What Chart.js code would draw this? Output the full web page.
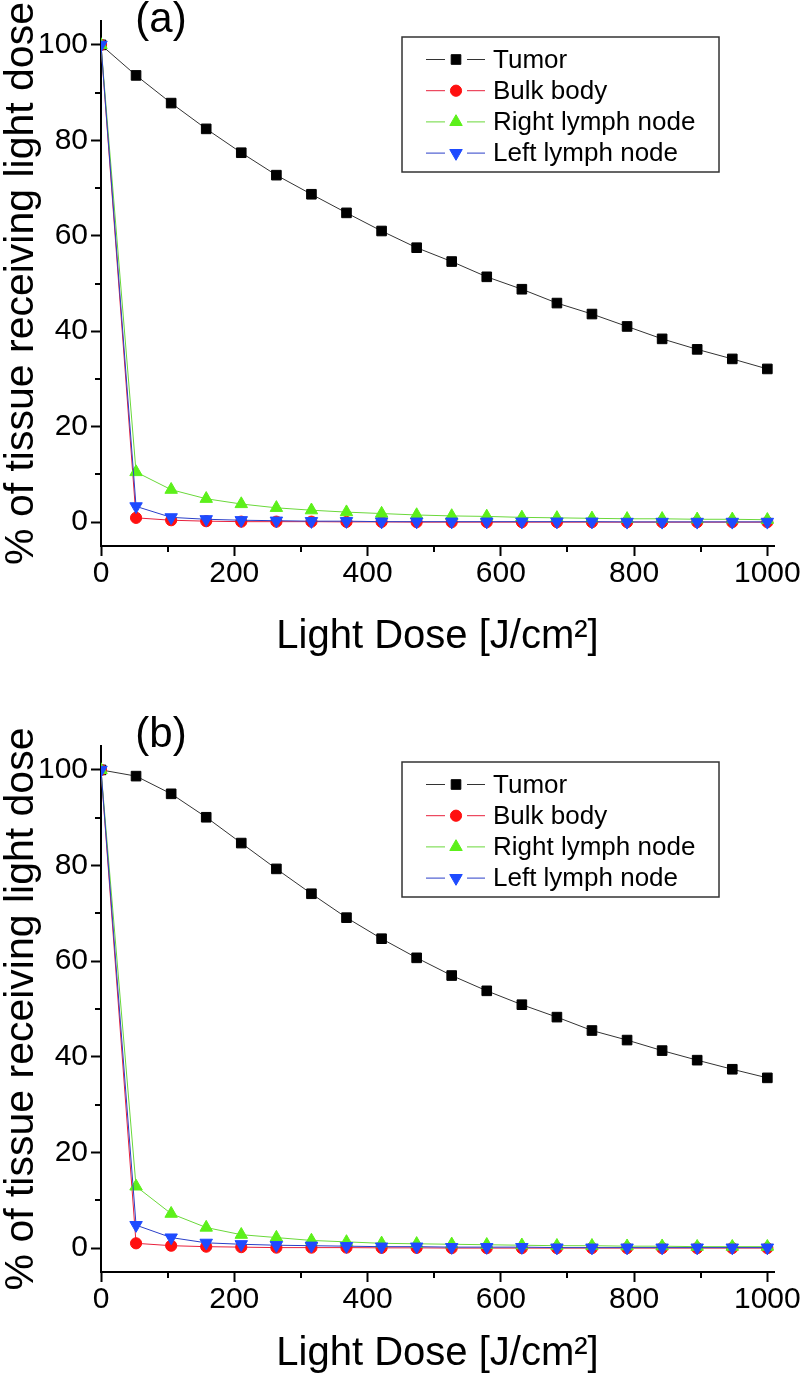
<!DOCTYPE html>
<html>
<head>
<meta charset="utf-8">
<script src="https://cdn.jsdelivr.net/npm/chart.js@4.4.0/dist/chart.umd.min.js"></script>
<style>
body { margin: 0; background: #fff; }
#wrap { position: relative; width: 804px; height: 1376px; }
canvas { position: absolute; left: 0; }
</style>
</head>
<body>
<div id="wrap">
    <canvas id="panelA" width="804" height="680" style="top:0px"></canvas>
    <canvas id="panelB" width="804" height="696" style="top:680px"></canvas>
</div>
<script>
// light dose (J/cm2) at every sample
const doses = [0, 52.6, 105.3, 157.9, 210.5, 263.2, 315.8, 368.4, 421.1, 473.7,
               526.3, 578.9, 631.6, 684.2, 736.8, 789.5, 842.1, 894.7, 947.4, 1000];

const seriesNames = ["Tumor", "Bulk body", "Right lymph node", "Left lymph node"];

// panel (a)
const tumorA = [100, 93.6, 87.8, 82.4, 77.4, 72.7, 68.7, 64.8, 61.0, 57.5,
                54.6, 51.4, 48.8, 45.9, 43.6, 41.0, 38.4, 36.2, 34.2, 32.1];
const bulkA  = [100, 0.9, 0.4, 0.2, 0.1, 0.1, 0.1, 0.05, 0.05, 0,
                0, 0, 0, 0, 0, 0, 0, 0, 0, 0];
const rightA = [100, 10.5, 6.8, 4.9, 3.8, 3.0, 2.5, 2.1, 1.8, 1.5,
                1.3, 1.2, 1.0, 0.9, 0.8, 0.7, 0.7, 0.6, 0.6, 0.5];
const leftA  = [100, 3.3, 1.0, 0.6, 0.4, 0.3, 0.2, 0.2, 0.1, 0.1,
                0.1, 0.1, 0.1, 0.1, 0.1, 0.05, 0.05, 0.05, 0.05, 0.05];

// panel (b)
const tumorB = [100, 98.7, 95.0, 90.1, 84.7, 79.3, 74.1, 69.1, 64.7, 60.7,
                57.0, 53.8, 50.9, 48.3, 45.5, 43.5, 41.3, 39.3, 37.4, 35.6];
const bulkB  = [100, 1.0, 0.5, 0.3, 0.2, 0.1, 0.1, 0.1, 0.05, 0.05,
                0, 0, 0, 0, 0, 0, 0, 0, 0, 0];
const rightB = [100, 12.9, 7.2, 4.3, 2.8, 2.2, 1.6, 1.3, 1.0, 0.9,
                0.8, 0.7, 0.6, 0.5, 0.5, 0.4, 0.4, 0.3, 0.3, 0.3];
const leftB  = [100, 4.8, 2.2, 1.1, 0.8, 0.6, 0.5, 0.4, 0.3, 0.3,
                0.2, 0.2, 0.2, 0.1, 0.1, 0.1, 0.1, 0.1, 0.1, 0.1];

// axis ticks
const xTicks = [0, 200, 400, 600, 800, 1000];
const xMinor = [100, 300, 500, 700, 900];
const yTicks = [0, 20, 40, 60, 80, 100];
const yMinor = [10, 30, 50, 70, 90];

const xTitle = "Light Dose [J/cm²]";
const yTitle = "% of tissue receiving light dose";

// looks of each series
const lineColors   = ["#333333", "#e8203c", "#6ad83a", "#2a3fc8"];
const markerColors = ["#000000", "#ff1010", "#5cf01a", "#1e4bff"];
const markerStyles = ["rect", "circle", "triangle", "triangle"];
const markerRot    = [0, 0, 0, 180];
const markerSize   = [6.8, 5.6, 7.2, 7.2];
const drawOrder    = [3, 2, 1, 0];

const FONT = "'Liberation Sans', Arial, sans-serif";
Chart.defaults.color = "#000";
Chart.defaults.font.family = FONT;

function minorTicks() {
    return {
        id: "minorTicks",
        afterDraw(chart) {
            const ctx = chart.ctx;
            const x = chart.scales.x, y = chart.scales.y;
            const area = chart.chartArea;
            ctx.save();
            ctx.strokeStyle = "#000";
            ctx.lineWidth = 2;
            ctx.beginPath();
            yMinor.forEach(v => {
                const py = Math.round(y.getPixelForValue(v));
                ctx.moveTo(area.left - 6, py);
                ctx.lineTo(area.left, py);
            });
            xMinor.forEach(v => {
                const px = Math.round(x.getPixelForValue(v));
                ctx.moveTo(px, area.bottom);
                ctx.lineTo(px, area.bottom + 6);
            });
            ctx.stroke();
            ctx.restore();
        }
    };
}

function legendBox(tag, tagY) {
    return {
        id: "legendBox",
        afterDraw(chart) {
            const ctx = chart.ctx;
            const area = chart.chartArea;
            const w = 317, h = 135;
            const left = area.right - 55 - w;
            const top = area.top + 16;
            ctx.save();
            ctx.strokeStyle = "#333";
            ctx.lineWidth = 1.5;
            ctx.strokeRect(left, top, w, h);
            ctx.font = "26px " + FONT;
            ctx.textBaseline = "middle";
            ctx.textAlign = "left";
            chart.data.datasets.forEach((ds, i) => {
                const cy = top + 22.5 + i * 31.2;
                const mx = left + 54;
                ctx.strokeStyle = ds.borderColor;
                ctx.lineWidth = 1;
                ctx.beginPath();
                ctx.moveTo(left + 24, cy);
                ctx.lineTo(mx - 11, cy);
                ctx.moveTo(mx + 11, cy);
                ctx.lineTo(left + 83, cy);
                ctx.stroke();
                ctx.fillStyle = ds.pointBackgroundColor;
                ctx.strokeStyle = ds.pointBorderColor;
                Chart.helpers.drawPoint(ctx, {
                    pointStyle: ds.pointStyle,
                    radius: ds.pointRadius,
                    rotation: ds.pointRotation,
                    borderWidth: 1
                }, mx, cy);
                ctx.fillStyle = "#000";
                ctx.fillText(ds.label, left + 91, cy + 1);
            });
            // panel tag
            ctx.font = "42px " + FONT;
            ctx.textAlign = "center";
            ctx.fillText(tag, 161, tagY);
            ctx.restore();
        }
    };
}

function makePanel(id, tag, values, lay) {
    const datasets = values.map((vals, i) => ({
        label: seriesNames[i],
        data: doses.map((d, k) => ({ x: d, y: vals[k] })),
        borderColor: lineColors[i],
        borderWidth: 1,
        pointStyle: markerStyles[i],
        pointRotation: markerRot[i],
        pointRadius: markerSize[i],
        pointBackgroundColor: markerColors[i],
        pointBorderColor: markerColors[i],
        pointBorderWidth: 1,
        tension: 0,
        order: drawOrder[i]
    }));

    return new Chart(document.getElementById(id), {
        type: "line",
        data: { datasets: datasets },
        plugins: [minorTicks(), legendBox(tag, lay.tagY)],
        options: {
            responsive: false,
            animation: false,
            events: [],
            layout: { padding: { top: lay.padTop, bottom: lay.padBottom, left: 0, right: 29 } },
            plugins: { legend: { display: false }, tooltip: { enabled: false } },
            scales: {
                x: {
                    type: "linear",
                    min: 0,
                    max: 1010,
                    afterBuildTicks: s => { s.ticks = xTicks.map(v => ({ value: v })); },
                    afterFit: s => { s.height = lay.xAxisH; },
                    border: { display: true, color: "#000", width: 2 },
                    grid: { drawOnChartArea: false, drawTicks: true, tickLength: 10, tickWidth: 2, tickColor: "#000" },
                    ticks: { font: { size: 30, lineHeight: 1 }, padding: 3, maxRotation: 0, color: "#000",
                             callback: v => String(v) },
                    title: { display: true, text: xTitle, font: { size: 40, lineHeight: 1 }, padding: 0, color: "#000" }
                },
                y: {
                    min: -5,
                    max: 105,
                    afterBuildTicks: s => { s.ticks = yTicks.map(v => ({ value: v })); },
                    afterFit: s => { s.width = 101; },
                    border: { display: true, color: "#000", width: 2 },
                    grid: { drawOnChartArea: false, drawTicks: true, tickLength: 10, tickWidth: 2, tickColor: "#000" },
                    ticks: { font: { size: 30, lineHeight: 1 }, padding: 3, color: "#000",
                             callback: v => String(v) },
                    title: { display: true, text: yTitle, font: { size: 41, lineHeight: 1 }, padding: { top: 1, bottom: 0 }, color: "#000" }
                }
            }
        }
    });
}

makePanel("panelA", "(a)", [tumorA, bulkA, rightA, leftA],
          { padTop: 21, padBottom: 23, xAxisH: 111, tagY: 20 });
makePanel("panelB", "(b)", [tumorB, bulkB, rightB, leftB],
          { padTop: 66, padBottom: 2, xAxisH: 102, tagY: 55 });
</script>
</body>
</html>
